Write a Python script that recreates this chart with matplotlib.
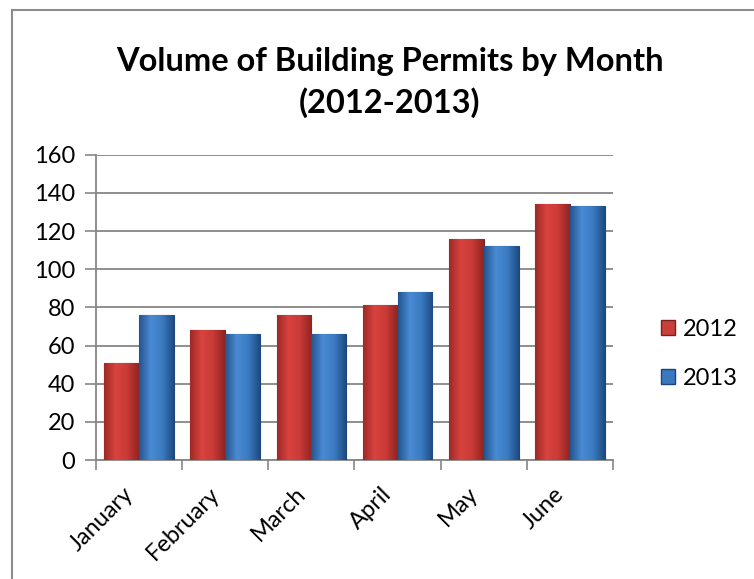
import matplotlib
matplotlib.use('Agg')
import matplotlib.pyplot as plt
import matplotlib.transforms as mtransforms
import numpy as np
from matplotlib.colors import LinearSegmentedColormap
from matplotlib.patches import Patch
from matplotlib.lines import Line2D

months = ['January', 'February', 'March', 'April', 'May', 'June']
permits_2012 = [51, 68, 76, 81, 116, 134]
permits_2013 = [76, 66, 66, 88, 112, 133]
years = ['2012', '2013']

plt.rcParams['font.family'] = ['Lato', 'DejaVu Sans']

fig = plt.figure(figsize=(7.54, 5.79), dpi=100)
ax = fig.add_axes([0.1273, 0.2055, 0.6857, 0.5273])

# fill colours: edge, centre, edge
red_cm = LinearSegmentedColormap.from_list('r', ['#9e2a26', '#d9433f', '#c93a36', '#8f2522'])
blue_cm = LinearSegmentedColormap.from_list('b', ['#23558f', '#4a8ad2', '#3b7bc2', '#1f4c82'])

x = np.arange(len(months))
w = 0.405
b1 = ax.bar(x - w / 2, permits_2012, w, color='#c0392f', edgecolor='#7a2020', lw=0.8, zorder=3)
b2 = ax.bar(x + w / 2, permits_2013, w, color='#3a76bd', edgecolor='#1d4577', lw=0.8, zorder=3)

grad = np.linspace(0, 1, 64).reshape(1, -1)
for bars, cm in ((b1, red_cm), (b2, blue_cm)):
    for r in bars:
        x0, y0 = r.get_x(), r.get_y()
        im = ax.imshow(grad, cmap=cm, aspect='auto', zorder=3.5,
                       extent=(x0, x0 + r.get_width(), y0, y0 + r.get_height()))
        im.set_clip_path(r)

ax.set_xlim(-0.5, len(months) - 0.5)
ax.set_ylim(0, 160)
ax.set_yticks(range(0, 161, 20))
ax.set_xticks(x)
ax.set_xticklabels(months, rotation=45, ha='right', va='center',
                   rotation_mode='anchor', fontsize=17)
ax.tick_params(axis='x', length=0, pad=22)
shift = mtransforms.ScaledTranslation(-9 / 100, 0, fig.dpi_scale_trans)
for lab in ax.get_xticklabels():
    lab.set_transform(lab.get_transform() + shift)
ax.set_xticks(np.arange(-0.5, len(months), 1), minor=True)
ax.tick_params(axis='x', which='minor', length=7, color='#868686', width=1.2)
ax.tick_params(axis='y', length=8, color='#868686', width=1.2, labelsize=17, pad=7)

ax.grid(axis='y', color='#868686', lw=1.3, zorder=0)
ax.set_axisbelow(True)
for s in ('top', 'right'):
    ax.spines[s].set_visible(False)
for s in ('left', 'bottom'):
    ax.spines[s].set_color('#868686')
    ax.spines[s].set_linewidth(1.3)

fig.suptitle('Volume of Building Permits by Month\n(2012-2013)', x=0.517, y=0.918,
             fontsize=23.5, fontweight='bold', linespacing=1.4)

handles = [Patch(facecolor='#c9403a', edgecolor='#7a2020'),
           Patch(facecolor='#3a78c0', edgecolor='#1d4577')]
fig.legend(handles, years, loc='center left', bbox_to_anchor=(0.848, 0.389),
           frameon=False, fontsize=17, labelspacing=1.2, handlelength=0.6,
           handleheight=0.6, handletextpad=0.35)

# outer chart border (left and top only visible)
fig.add_artist(Line2D([0.016, 0.016], [0, 0.983], color='#8c8c8c', lw=1.5))
fig.add_artist(Line2D([0.016, 1.0], [0.983, 0.983], color='#8c8c8c', lw=1.5))

fig.savefig('out.png', dpi=100)
